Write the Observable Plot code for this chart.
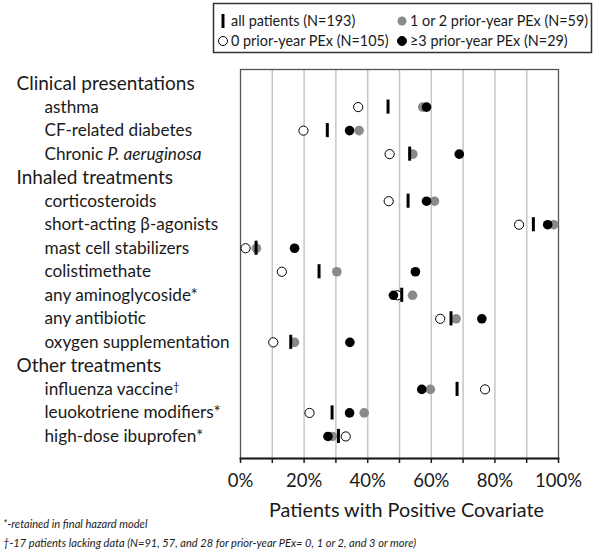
<!DOCTYPE html>
<html>
<head>
<meta charset="utf-8">
<script src="https://cdn.jsdelivr.net/npm/d3@7"></script>
<script src="https://cdn.jsdelivr.net/npm/@observablehq/plot@0.6"></script>
<style>
  html, body { margin: 0; padding: 0; background: #fff; }
  #wrap { position: relative; width: 601px; height: 557px; font-family: Lato, sans-serif; color: #1a1a1a; }
  #legend { display: block; }
  #chart svg { display: block; overflow: visible; }
  #notes { position: absolute; left: 3px; top: 515px; font-style: italic; font-size: 12.4px; line-height: 18.5px; color: #1a1a1a; white-space: nowrap; transform: scaleX(0.895); transform-origin: 0 0; }
</style>
</head>
<body>
<div id="wrap">
  <svg id="legend" width="601" height="56"></svg>
  <div id="chart"></div>
  <div id="notes"></div>
</div>
<script>
// ---------- data ----------
const groups = ["Clinical presentations", "Inhaled treatments", "Other treatments"];
const categories = [
  "asthma", "CF-related diabetes", "Chronic P. aeruginosa",
  "corticosteroids", "short-acting β-agonists", "mast cell stabilizers", "colistimethate",
  "any aminoglycoside*", "any antibiotic", "oxygen supplementation",
  "influenza vaccine†", "leuokotriene modifiers*", "high-dose ibuprofen*"
];
const categoryGroup = [0, 0, 0, 1, 1, 1, 1, 1, 1, 1, 2, 2, 2];
const allPatients = [46.4, 27.3, 53.2, 52.7, 92.1, 4.9, 24.7, 50.7, 66.2, 15.8, 68.1, 28.8, 30.8];
const prior0      = [37.0, 19.8, 46.9, 46.6, 87.6, 1.6, 13.0, 49.3, 62.8, 10.3, 76.9, 21.7, 33.1];
const prior12     = [57.3, 37.3, 54.2, 61.0, 98.5, 5.0, 30.3, 54.1, 67.8, 17.0, 59.7, 38.9, 28.9];
const prior3      = [58.5, 34.3, 68.8, 58.5, 96.6, 17.0, 55.0, 48.1, 75.9, 34.4, 57.0, 34.3, 27.5];
const legendLabels = ["all patients (N=193)", "1 or 2 prior-year PEx (N=59)", "0 prior-year PEx (N=105)", "≥3 prior-year PEx (N=29)"];
const xTicks = [0, 10, 20, 30, 40, 50, 60, 70, 80, 90, 100];
const xTitle = "Patients with Positive Covariate";
const footnotes = [
  "*-retained in final hazard model",
  "†-17 patients lacking data (N=91, 57, and 28 for prior-year PEx= 0, 1 or 2, and 3 or more)"
];

// ---------- table ----------
const rows = [];
groups.forEach((g, gi) => {
  rows.push({key: g, header: true});
  categories.forEach((c, i) => {
    if (categoryGroup[i] === gi) rows.push({key: c, header: false});
  });
});
const data = categories.map((c, i) => ({
  cat: c, all: allPatients[i], p0: prior0[i], p12: prior12[i], p3: prior3[i]
}));

const GRAY = "#8a8a8a";
const INK = "#1a1a1a";

// ---------- legend ----------
const lg = d3.select("#legend");
lg.append("rect").attr("x", 213.5).attr("y", 3.5).attr("width", 378).attr("height", 49)
  .attr("fill", "white").attr("stroke", "#333").attr("stroke-width", 1.5);
const leg = [
  {x: 223, y: 21, kind: "bar", text: legendLabels[0]},
  {x: 402, y: 21, kind: "gray", text: legendLabels[1]},
  {x: 223, y: 41, kind: "open", text: legendLabels[2]},
  {x: 402, y: 41, kind: "black", text: legendLabels[3]}
];
leg.forEach(l => {
  if (l.kind === "bar") {
    lg.append("line").attr("x1", l.x).attr("x2", l.x).attr("y1", l.y - 7).attr("y2", l.y + 7)
      .attr("stroke", "black").attr("stroke-width", 3);
  } else {
    lg.append("circle").attr("cx", l.x).attr("cy", l.y).attr("r", 4.5)
      .attr("fill", l.kind === "open" ? "white" : l.kind === "gray" ? GRAY : "black")
      .attr("stroke", l.kind === "gray" ? "none" : "black").attr("stroke-width", 1);
  }
  lg.append("text").attr("x", l.x + 8).attr("y", l.y).attr("dy", "0.35em")
    .attr("font-family", "Lato, sans-serif").attr("font-size", 14.4).attr("fill", INK)
    .text(l.text);
});

// ---------- chart ----------
const plot = Plot.plot({
  width: 601,
  height: 470,
  marginLeft: 240,
  marginRight: 43,
  marginTop: 13,
  marginBottom: 68,
  style: {fontFamily: "Lato, sans-serif", color: INK, background: "white"},
  x: {domain: [0, 100], axis: null},
  y: {type: "band", domain: rows.map(r => r.key), paddingInner: 0.4, paddingOuter: 0, round: false, insetTop: 7, insetBottom: 15, axis: null},
  marks: [
    Plot.gridX(xTicks.slice(1, -1), {stroke: "#c6c6c6", strokeOpacity: 1, strokeWidth: 1.5}),
    Plot.frame({stroke: "#555", strokeWidth: 1.3}),
    Plot.axisX({
      ticks: xTicks, tickSize: 5, tickPadding: 10, fontSize: 18.5,
      tickFormat: d => d % 20 === 0 ? d + "%" : "", label: null, stroke: INK, strokeWidth: 1.5
    }),
    Plot.frame({anchor: "bottom", stroke: INK, strokeWidth: 1.8}),
    Plot.text(rows.filter(r => r.header), {y: "key", text: "key", frameAnchor: "left", dx: -224, textAnchor: "start", fontSize: 19, fill: INK}),
    Plot.text(rows.filter(r => !r.header), {y: "key", text: "key", frameAnchor: "left", dx: -196, textAnchor: "start", fontSize: 17.2, fill: INK}),
    Plot.dot(data, {x: "p0", y: "cat", r: 4.6, fill: "white", stroke: "black", strokeWidth: 1}),
    Plot.dot(data, {x: "p12", y: "cat", r: 4.8, fill: GRAY}),
    Plot.dot(data, {x: "p3", y: "cat", r: 4.8, fill: "black"}),
    Plot.tickX(data, {x: "all", y: "cat", stroke: "black", strokeWidth: 3}),
    Plot.text([xTitle], {frameAnchor: "bottom", dy: 58.5, dx: 7, fontSize: 19.8, fill: INK})
  ]
});
document.getElementById("chart").appendChild(plot);

// rich text: italic species name, superscript dagger
d3.select(plot).selectAll("text").each(function() {
  const t = d3.select(this);
  const s = t.text();
  if (s === "Chronic P. aeruginosa") {
    t.text("");
    t.append("tspan").text("Chronic ");
    t.append("tspan").attr("font-style", "italic").text("P. aeruginosa");
  } else if (s === "influenza vaccine†") {
    t.text("");
    t.append("tspan").text("influenza vaccine");
    t.append("tspan").attr("font-size", "0.65em").attr("baseline-shift", "40%").text("†");
  }
});

// ---------- footnotes ----------
d3.select("#notes").selectAll("div").data(footnotes).join("div").text(d => d);
</script>
</body>
</html>
